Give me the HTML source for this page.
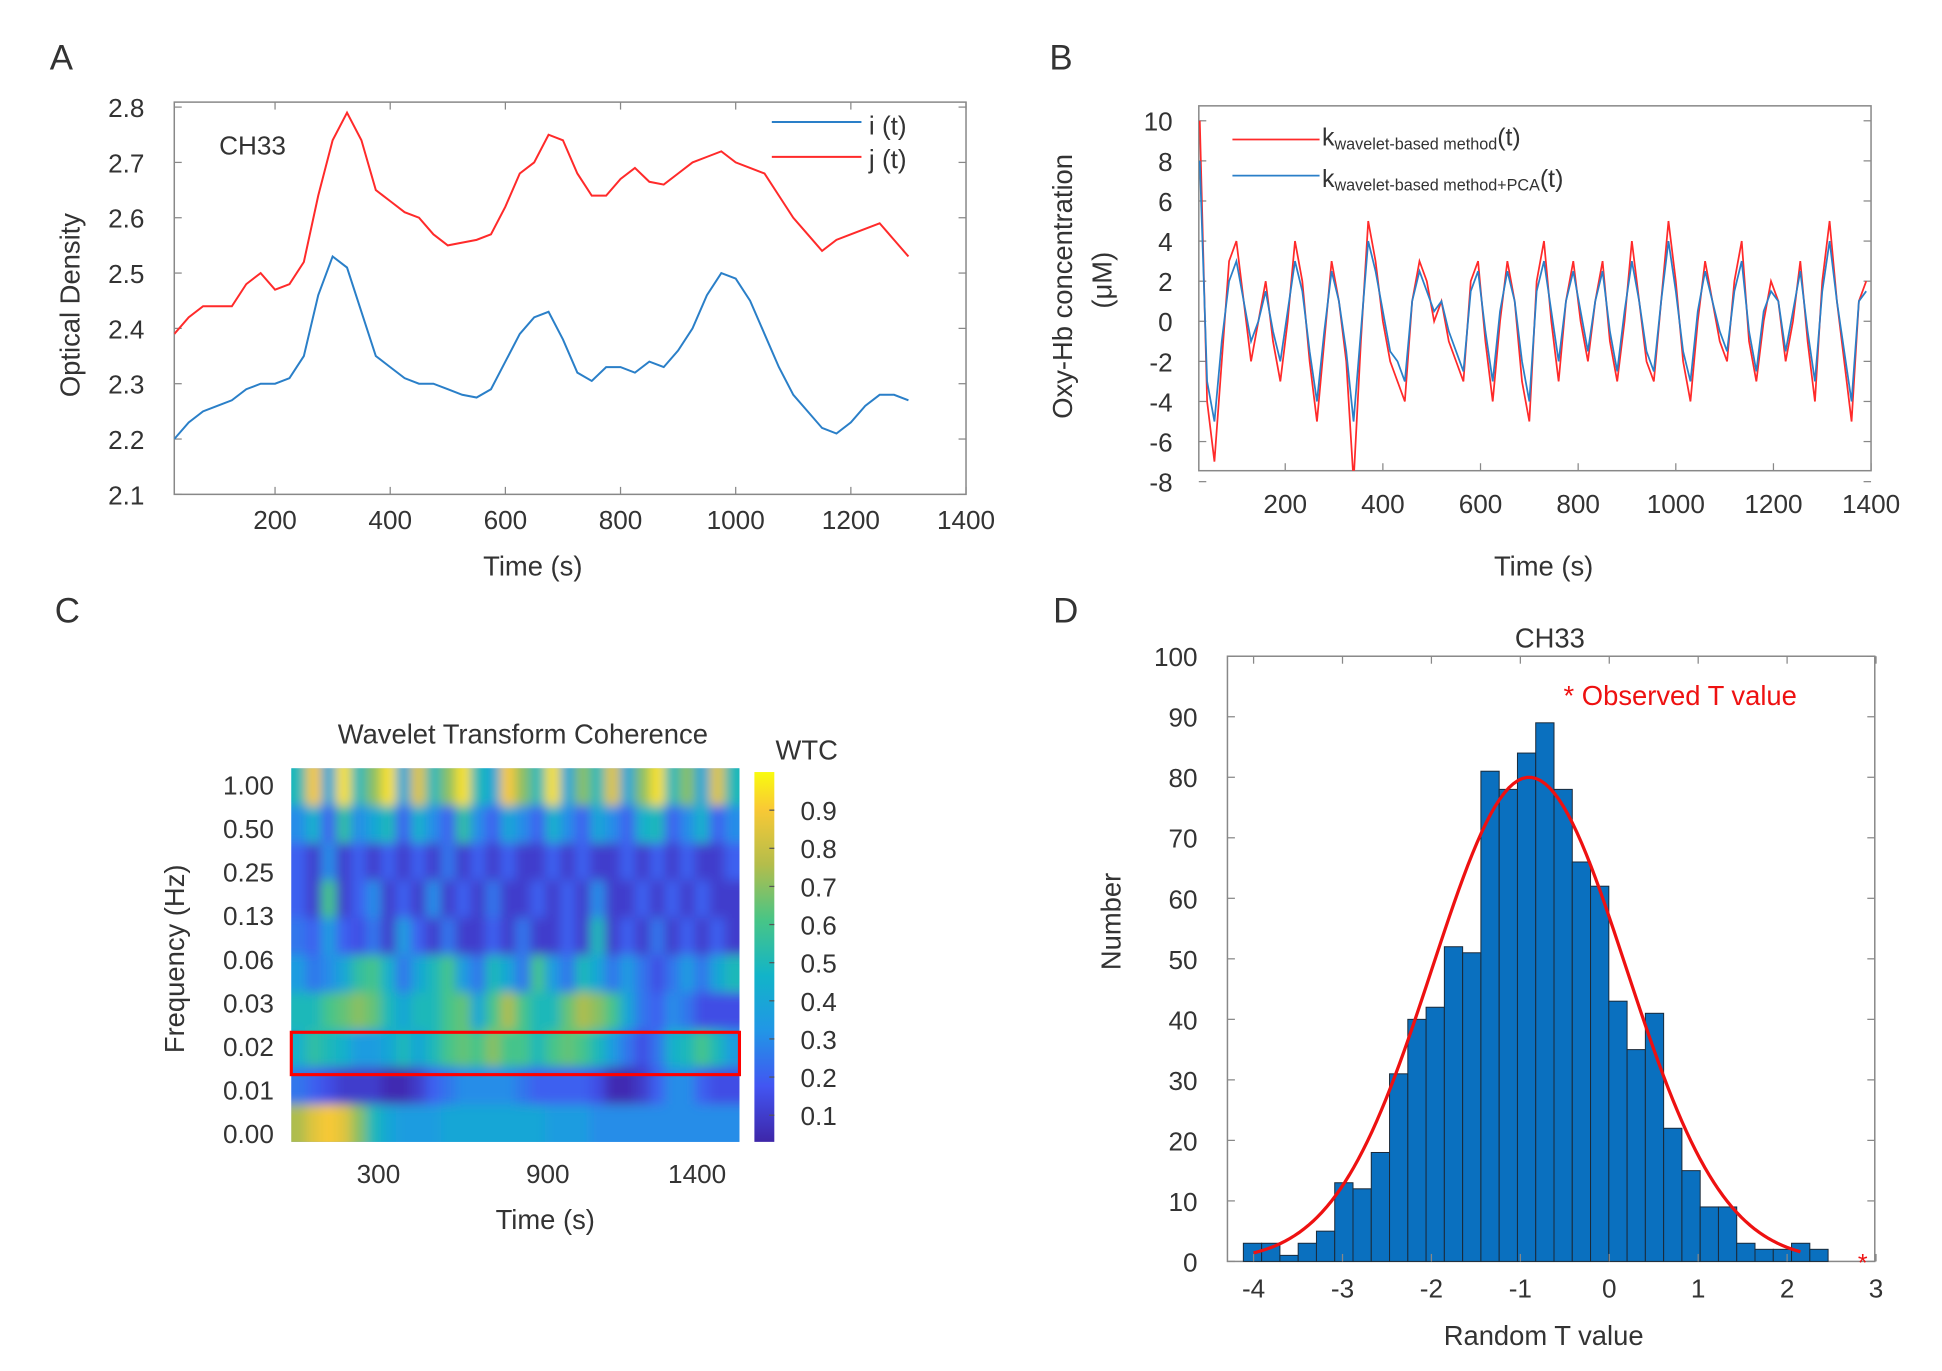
<!DOCTYPE html>
<html><head><meta charset="utf-8"><style>
html,body{margin:0;padding:0;background:#fff}
svg{display:block;font-family:"Liberation Sans",sans-serif}
text{fill:#333}
</style></head><body>
<svg id="fig" width="1942" height="1371" viewBox="0 0 1560 1101" preserveAspectRatio="none" xmlns="http://www.w3.org/2000/svg">
<defs>
<clipPath id="clipA"><rect x="140" y="82" width="636" height="315"/></clipPath>
<clipPath id="clipB"><rect x="963" y="85" width="540" height="293"/></clipPath>
<clipPath id="clipC"><rect x="234" y="617" width="360" height="300"/></clipPath>
<filter id="blur" x="-5%" y="-5%" width="110%" height="110%"><feGaussianBlur stdDeviation="4.5"/></filter>
<linearGradient id="parula" x1="0" y1="1" x2="0" y2="0">
<stop offset="0" stop-color="#3e26a8"/><stop offset="0.15" stop-color="#4255f2"/><stop offset="0.3" stop-color="#2196e6"/><stop offset="0.45" stop-color="#12b4c8"/><stop offset="0.6" stop-color="#48c586"/><stop offset="0.75" stop-color="#b4bd4b"/><stop offset="0.9" stop-color="#f9c935"/><stop offset="1" stop-color="#f9fb0e"/>
</linearGradient>
</defs>
<g id="gA"></g>
<g id="gB"></g>
<g id="gC"></g>
<g id="gD"></g>
</svg>
<script>
// ---- Panel A data ----
const timeA = [25,50,75,100,125,150,175,200,225,250,275,300,325,350,375,400,425,450,475,500,525,550,575,600,625,650,675,700,725,750,775,800,825,850,875,900,925,950,975,1000,1025,1050,1075,1100,1125,1150,1175,1200,1225,1250,1275,1300];
const seriesJ = [2.39,2.42,2.44,2.44,2.44,2.48,2.5,2.47,2.48,2.52,2.64,2.74,2.79,2.74,2.65,2.63,2.61,2.6,2.57,2.55,2.555,2.56,2.57,2.62,2.68,2.70,2.75,2.74,2.68,2.64,2.64,2.67,2.69,2.665,2.66,2.68,2.70,2.71,2.72,2.70,2.69,2.68,2.64,2.60,2.57,2.54,2.56,2.57,2.58,2.59,2.56,2.53];
const seriesI = [2.20,2.23,2.25,2.26,2.27,2.29,2.30,2.30,2.31,2.35,2.46,2.53,2.51,2.43,2.35,2.33,2.31,2.30,2.30,2.29,2.28,2.275,2.29,2.34,2.39,2.42,2.43,2.38,2.32,2.305,2.33,2.33,2.32,2.34,2.33,2.36,2.40,2.46,2.50,2.49,2.45,2.39,2.33,2.28,2.25,2.22,2.21,2.23,2.26,2.28,2.28,2.27];
const ticksAx = [200,400,600,800,1000,1200,1400];
const ticksAy = [2.1,2.2,2.3,2.4,2.5,2.6,2.7,2.8];
// ---- Panel B data (step 15 s from 25) ----
const redB = [10,-4,-7,-2,3,4,1,-2,0,2,-1,-3,0,4,2,-2,-5,-1,3,1,-2,-8,-1,5,3,0,-2,-3,-4,1,3,2,0,1,-1,-2,-3,2,3,-1,-4,0,3,1,-3,-5,2,4,0,-3,1,3,0,-2,1,3,-1,-3,0,4,1,-2,-3,1,5,2,-2,-4,0,3,1,-1,-2,2,4,-1,-3,0,2,1,-2,0,3,-1,-4,2,5,1,-2,-5,1,2];
const blueB = [8,-3,-5,-1,2,3,1,-1,0,1.5,-0.5,-2,0.5,3,1.5,-1.5,-4,-0.5,2.5,1,-1.5,-5,-0.5,4,2.5,0.5,-1.5,-2,-3,1,2.5,1.5,0.5,1,-0.5,-1.5,-2.5,1.5,2.5,-0.5,-3,0.5,2.5,1,-2,-4,1.5,3,0.5,-2,1,2.5,0.5,-1.5,1,2.5,-0.5,-2.5,0.5,3,1,-1.5,-2.5,1,4,1.5,-1.5,-3,0.5,2.5,1,-0.5,-1.5,1.5,3,-0.5,-2.5,0.5,1.5,1,-1.5,0.5,2.5,-0.5,-3,1.5,4,1,-1.5,-4,1,1.5];
const ticksBx = [200,400,600,800,1000,1200,1400];
const ticksBy = [-8,-6,-4,-2,0,2,4,6,8,10];
// ---- Panel C data ----
const freqLabels = ["1.00","0.50","0.25","0.13","0.06","0.03","0.02","0.01","0.00"];
const timeLabelsC = [300,900,1400];
const cbarTicks = [0.1,0.2,0.3,0.4,0.5,0.6,0.7,0.8,0.9];
const wtcRow0 = [0.5,0.9,0.4,0.95,0.5,0.7,0.95,0.4,0.85,0.5,0.7,0.95,0.5,0.4,0.9,0.7,0.5,0.95,0.4,0.7,0.5,0.85,0.4,0.7,0.95,0.5,0.7,0.4,0.85,0.5];
const wtcRow1 = [0.3,0.45,0.2,0.55,0.3,0.4,0.5,0.2,0.45,0.3,0.2,0.55,0.3,0.2,0.4,0.3,0.2,0.45,0.3,0.2,0.4,0.3,0.2,0.45,0.5,0.2,0.3,0.45,0.2,0.3];
const wtcRow2 = [0.2,0.1,0.3,0.1,0.2,0.1,0.2,0.1,0.2,0.1,0.25,0.1,0.2,0.1,0.2,0.1,0.1,0.2,0.1,0.2,0.1,0.1,0.2,0.1,0.2,0.1,0.2,0.1,0.1,0.2];
const wtcRow3 = [0.2,0.1,0.6,0.1,0.2,0.3,0.1,0.2,0.1,0.3,0.1,0.2,0.1,0.25,0.1,0.1,0.2,0.1,0.2,0.1,0.3,0.1,0.1,0.2,0.1,0.2,0.1,0.2,0.1,0.1];
const wtcRow4 = [0.25,0.2,0.35,0.2,0.15,0.25,0.1,0.35,0.2,0.1,0.25,0.1,0.1,0.2,0.1,0.25,0.1,0.1,0.2,0.1,0.5,0.1,0.2,0.1,0.25,0.1,0.2,0.1,0.2,0.1];
const wtcRow5 = [0.35,0.25,0.3,0.4,0.55,0.6,0.45,0.25,0.4,0.5,0.6,0.35,0.25,0.5,0.4,0.25,0.6,0.35,0.25,0.5,0.4,0.25,0.35,0.25,0.15,0.25,0.35,0.25,0.4,0.5];
const wtcRow6 = [0.5,0.5,0.6,0.65,0.7,0.65,0.5,0.4,0.5,0.5,0.6,0.65,0.4,0.6,0.75,0.6,0.5,0.5,0.65,0.75,0.7,0.6,0.4,0.25,0.2,0.3,0.25,0.15,0.15,0.15];
const wtcRow7 = [0.45,0.55,0.5,0.45,0.35,0.35,0.4,0.5,0.4,0.5,0.6,0.65,0.6,0.7,0.6,0.6,0.5,0.6,0.65,0.6,0.5,0.35,0.25,0.15,0.25,0.45,0.5,0.6,0.5,0.35];
const wtcRow8 = [0.25,0.2,0.15,0.1,0.1,0.1,0.05,0.05,0.1,0.2,0.25,0.3,0.3,0.3,0.3,0.25,0.2,0.2,0.2,0.2,0.15,0.05,0.05,0.1,0.2,0.3,0.3,0.2,0.15,0.15];
const wtcRow9 = [0.75,0.85,0.9,0.85,0.7,0.5,0.4,0.35,0.35,0.35,0.4,0.4,0.4,0.4,0.4,0.4,0.4,0.35,0.35,0.35,0.3,0.3,0.3,0.3,0.3,0.3,0.3,0.3,0.3,0.3];
// ---- Panel D data ----
const binStart = -4.115;
const binWidth = 0.2055;
const binCounts = [3,3,1,3,5,13,12,18,31,40,42,52,51,81,78,84,89,78,66,62,43,35,41,22,15,9,9,3,2,2,3,2];
const fitParams = [80,-0.9,1.09]; // peak, mean, sigma
const fitRange = [-4,2.15];
const observedT = [2.85];
const ticksDx = [-4,-3,-2,-1,0,1,2,3];
const ticksDy = [0,10,20,30,40,50,60,70,80,90,100];

const NS="http://www.w3.org/2000/svg";
function mk(tag, attrs, parent, txt){const e=document.createElementNS(NS,tag);for(const k in attrs)e.setAttribute(k,attrs[k]);if(txt!==undefined)e.textContent=txt;parent.appendChild(e);return e;}
function lin(d0,d1,r0,r1){return v=>r0+(v-d0)/(d1-d0)*(r1-r0);}

// ===== Panel A =====
(function(){
const g=document.getElementById('gA');
const x=lin(25,1400,140,776), y=lin(2.1,2.8,397,86);
let t=mk('text',{x:40,y:56,'font-size':28},g,'A');


let box=mk('rect',{x:140,y:82,width:636,height:315,fill:'none',stroke:'#888','stroke-width':1.2},g);


ticksAx.forEach(v=>{
  mk('line',{x1:x(v),x2:x(v),y1:397,y2:391,stroke:'#888'},g);
  mk('line',{x1:x(v),x2:x(v),y1:82,y2:88,stroke:'#888'},g);
  const l=mk('text',{x:x(v),y:425,'font-size':21,'text-anchor':'middle'},g,String(v));
  
  
});
ticksAy.forEach(v=>{
  mk('line',{x1:140,x2:146,y1:y(v),y2:y(v),stroke:'#888'},g);
  mk('line',{x1:776,x2:770,y1:y(v),y2:y(v),stroke:'#888'},g);
  const l=mk('text',{x:116,y:y(v)+8,'font-size':21,'text-anchor':'end'},g,v.toFixed(1));
  
  
});
let xt=mk('text',{x:428,y:462,'font-size':22,'text-anchor':'middle'},g,'Time (s)');


let yt=mk('text',{x:0,y:0,'font-size':22,'text-anchor':'middle',transform:'translate(64,245) rotate(-90)'},g,'Optical Density');


let ch=mk('text',{x:176,y:124,'font-size':21},g,'CH33');


const cg=mk('g',{'clip-path':'url(#clipA)'},g);
const pj=mk('polyline',{points:timeA.map((v,i)=>x(v)+','+y(seriesJ[i])).join(' '),fill:'none',stroke:'#ff2a2a','stroke-width':1.6},cg);


const pi=mk('polyline',{points:timeA.map((v,i)=>x(v)+','+y(seriesI[i])).join(' '),fill:'none',stroke:'#2a7fc8','stroke-width':1.6},cg);


mk('line',{x1:620,x2:692,y1:98,y2:98,stroke:'#2a7fc8','stroke-width':1.6},g);
mk('line',{x1:620,x2:692,y1:126,y2:126,stroke:'#ff2a2a','stroke-width':1.6},g);
let l1=mk('text',{x:698,y:108,'font-size':21},g,'i (t)');


let l2=mk('text',{x:698,y:135,'font-size':21},g,'j (t)');


})();

// ===== Panel B =====
(function(){
const g=document.getElementById('gB');
const x=lin(23,1405,963,1505), y=lin(0,10,258,97);
let t=mk('text',{x:843,y:56,'font-size':28},g,'B');


let box=mk('rect',{x:963,y:85,width:540,height:293,fill:'none',stroke:'#888','stroke-width':1.2},g);


ticksBx.forEach(v=>{
  mk('line',{x1:x(v),x2:x(v),y1:378,y2:372,stroke:'#888'},g);
  const l=mk('text',{x:x(v),y:412,'font-size':21,'text-anchor':'middle'},g,String(v));
  
  
});
ticksBy.forEach(v=>{
  mk('line',{x1:963,x2:969,y1:y(v),y2:y(v),stroke:'#888'},g);
  mk('line',{x1:1503,x2:1497,y1:y(v),y2:y(v),stroke:'#888'},g);
  const l=mk('text',{x:942,y:y(v)+8,'font-size':21,'text-anchor':'end'},g,String(v));
  
  
});
let xt=mk('text',{x:1240,y:462,'font-size':22,'text-anchor':'middle'},g,'Time (s)');


let yt=mk('text',{x:0,y:0,'font-size':22,'text-anchor':'middle',transform:'translate(861,230) rotate(-90)'},g,'Oxy-Hb concentration');


let yu=mk('text',{x:0,y:0,'font-size':22,'text-anchor':'middle',transform:'translate(893,225) rotate(-90)'},g,'(μM)');


const cg=mk('g',{'clip-path':'url(#clipB)'},g);
const pr=mk('polyline',{points:redB.map((v,i)=>x(25+15*i)+','+y(v)).join(' '),fill:'none',stroke:'#ff2a2a','stroke-width':1.4},cg);


const pb=mk('polyline',{points:blueB.map((v,i)=>x(25+15*i)+','+y(v)).join(' '),fill:'none',stroke:'#2a7fc8','stroke-width':1.4},cg);


mk('line',{x1:990,x2:1060,y1:112,y2:112,stroke:'#ff2a2a','stroke-width':1.4},g);
mk('line',{x1:990,x2:1060,y1:141,y2:141,stroke:'#2a7fc8','stroke-width':1.4},g);
let l1=mk('text',{x:1062,y:117,'font-size':20},g);
l1.innerHTML='k<tspan font-size="13" dy="3">wavelet-based method</tspan><tspan dy="-3">(t)</tspan>';


let l2=mk('text',{x:1062,y:150,'font-size':20},g);
l2.innerHTML='k<tspan font-size="13" dy="3">wavelet-based method+PCA</tspan><tspan dy="-3">(t)</tspan>';


})();

// ===== Panel C =====
(function(){
const g=document.getElementById('gC');
const rows=[wtcRow0,wtcRow1,wtcRow2,wtcRow3,wtcRow4,wtcRow5,wtcRow6,wtcRow7,wtcRow8,wtcRow9];
const stops=[[0,[62,38,168]],[0.15,[66,85,242]],[0.3,[33,150,230]],[0.45,[18,180,200]],[0.6,[72,197,134]],[0.75,[180,189,75]],[0.9,[249,201,53]],[1,[249,251,14]]];
function col(v){v=Math.max(0,Math.min(1,(v-0.03)/0.97));for(let i=1;i<stops.length;i++){if(v<=stops[i][0]){const a=stops[i-1],b=stops[i],f=(v-a[0])/(b[0]-a[0]);return 'rgb('+a[1].map((c,k)=>Math.round(c+(b[1][k]-c)*f)).join(',')+')';}}return 'rgb(249,251,14)';}
let t=mk('text',{x:44,y:500,'font-size':28},g,'C');


let ti=mk('text',{x:420,y:597,'font-size':22,'text-anchor':'middle'},g,'Wavelet Transform  Coherence');


const cg=mk('g',{'clip-path':'url(#clipC)'},g);
mk('rect',{x:234,y:617,width:360,height:300,fill:col(0.25)},cg);
const hg=mk('g',{filter:'url(#blur)'},cg);
const nr=rows.length, nc=rows[0].length, cw=360/nc, rh=300/nr;
rows.forEach((r,ri)=>r.forEach((v,ci)=>{
  const c=mk('rect',{x:234+ci*cw-(ci===0?10:0),y:617+ri*rh-(ri===0?10:0),width:cw+0.6+(ci===0||ci===nc-1?10:0),height:rh+0.6+(ri===0||ri===nr-1?10:0),fill:col(v)},hg);
  
  
}));
const hl=mk('rect',{x:234,y:829,width:360,height:34,fill:'none',stroke:'#ff0000','stroke-width':2.5},g);


freqLabels.forEach((s,i)=>{
  const l=mk('text',{x:220,y:638+i*35,'font-size':21,'text-anchor':'end'},g,s);
  
  
});
const xc=lin(0,1500,234,594);
timeLabelsC.forEach(v=>{
  const l=mk('text',{x:xc(v)+(v===300?-2:-10),y:950,'font-size':21,'text-anchor':'middle'},g,String(v));
  
  
});
let xt=mk('text',{x:438,y:987,'font-size':22,'text-anchor':'middle'},g,'Time (s)');


let yt=mk('text',{x:0,y:0,'font-size':22,'text-anchor':'middle',transform:'translate(148,770) rotate(-90)'},g,'Frequency (Hz)');


const cb=mk('rect',{x:606,y:620,width:16,height:297,fill:'url(#parula)'},g);


const yc=lin(0.03,1.0,917,620);
cbarTicks.forEach(v=>{
  mk('line',{x1:618,x2:622,y1:yc(v),y2:yc(v),stroke:'#555'},g);
  const l=mk('text',{x:643,y:yc(v)+8,'font-size':21},g,String(v));
  
  
});
let wt=mk('text',{x:623,y:610,'font-size':22},g,'WTC');


})();

// ===== Panel D =====
(function(){
const g=document.getElementById('gD');
const x=lin(-4,3,1007,1507), y=lin(0,100,1013,527);
let t=mk('text',{x:846,y:500,'font-size':28},g,'D');


let ti=mk('text',{x:1245,y:520,'font-size':22,'text-anchor':'middle'},g,'CH33');


let box=mk('rect',{x:986,y:527,width:520,height:486,fill:'none',stroke:'#888','stroke-width':1.2},g);


binCounts.forEach((c,i)=>{
  const x0=x(binStart+i*binWidth), x1=x(binStart+(i+1)*binWidth);
  const b=mk('rect',{x:x0,y:y(c),width:x1-x0,height:y(0)-y(c),fill:'#0a70bf',stroke:'#1a2a3a','stroke-width':0.8},g);
  
  
});
const pts=[];
for(let k=0;k<=120;k++){const v=fitRange[0]+(fitRange[1]-fitRange[0])*k/120;const z=(v-fitParams[1])/fitParams[2];pts.push(x(v)+','+y(fitParams[0]*Math.exp(-0.5*z*z)));}
const fc=mk('polyline',{points:pts.join(' '),fill:'none',stroke:'#ee1111','stroke-width':2.6},g);


observedT.forEach(v=>{
  const s=mk('text',{x:x(v),y:y(0)+8,'font-size':20,'text-anchor':'middle',style:'fill:#ee1111'},g,'*');
  
  
});
ticksDx.forEach(v=>{
  mk('line',{x1:x(v),x2:x(v),y1:1013,y2:1007,stroke:'#888'},g);
  mk('line',{x1:x(v),x2:x(v),y1:527,y2:533,stroke:'#888'},g);
  const l=mk('text',{x:x(v),y:1042,'font-size':21,'text-anchor':'middle'},g,String(v));
  
  
});
ticksDy.forEach(v=>{
  mk('line',{x1:986,x2:992,y1:y(v),y2:y(v),stroke:'#888'},g);
  mk('line',{x1:1506,x2:1500,y1:y(v),y2:y(v),stroke:'#888'},g);
  const l=mk('text',{x:962,y:y(v)+8,'font-size':21,'text-anchor':'end'},g,String(v));
  
  
});
let lg=mk('text',{x:1256,y:566,'font-size':22,style:'fill:#ee1111'},g,'* Observed T value');


let xt=mk('text',{x:1240,y:1080,'font-size':22,'text-anchor':'middle'},g,'Random T value');


let yt=mk('text',{x:0,y:0,'font-size':22,'text-anchor':'middle',transform:'translate(900,740) rotate(-90)'},g,'Number');


})();
</script>
</body></html>
